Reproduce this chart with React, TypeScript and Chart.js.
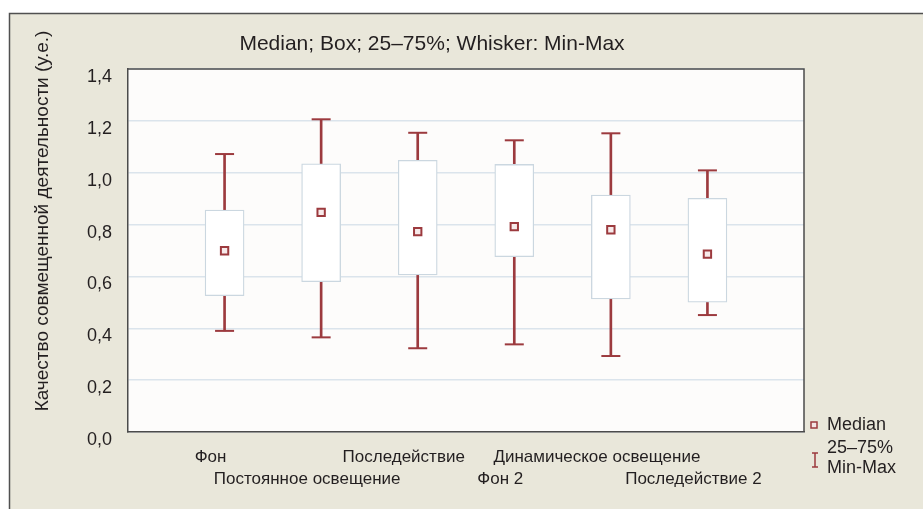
import React, { useEffect, useRef } from 'react';
import { Chart, registerables } from 'chart.js';

Chart.register(...registerables);

const categories = ['Фон', 'Постоянное освещение', 'Последействие', 'Фон 2', 'Динамическое освещение', 'Последействие 2'];
const minValues = [0.39, 0.365, 0.323, 0.338, 0.293, 0.451];
const q1Values = [0.526, 0.58, 0.606, 0.676, 0.513, 0.501];
const medianValues = [0.699, 0.847, 0.773, 0.792, 0.78, 0.686];
const q3Values = [0.856, 1.034, 1.048, 1.032, 0.914, 0.901];
const maxValues = [1.072, 1.206, 1.154, 1.125, 1.152, 1.009];

const titleText = 'Median; Box; 25–75%; Whisker: Min-Max';
const yTitleText = 'Качество совмещенной деятельности (у.е.)';
const legendLabels = ['Median', '25–75%', 'Min-Max'];

const FONT = "'Liberation Sans', Arial, sans-serif";
const RED = '#9c3a3e';
const TEXT = '#231f20';

const decor = {
  id: 'decor',
  beforeDraw(chart: any) {
    const { ctx, chartArea: a } = chart;
    ctx.save();
    ctx.fillStyle = '#ffffff';
    ctx.fillRect(0, 0, chart.width, chart.height);
    ctx.fillStyle = '#e9e7da';
    ctx.fillRect(9, 13, chart.width - 9, chart.height - 13);
    ctx.strokeStyle = '#505050';
    ctx.lineWidth = 1.5;
    ctx.beginPath();
    ctx.moveTo(9.5, chart.height);
    ctx.lineTo(9.5, 13.5);
    ctx.lineTo(chart.width, 13.5);
    ctx.stroke();
    ctx.fillStyle = '#fdfcfb';
    ctx.fillRect(a.left, a.top, a.right - a.left, a.bottom - a.top);
    ctx.restore();
  },
  afterDraw(chart: any) {
    const { ctx, chartArea: a } = chart;
    ctx.save();
    ctx.strokeStyle = '#4b4b4b';
    ctx.lineWidth = 1.5;
    ctx.beginPath();
    ctx.moveTo(a.left, a.top);
    ctx.lineTo(a.right, a.top);
    ctx.lineTo(a.right, a.bottom);
    ctx.stroke();

    ctx.fillStyle = TEXT;
    ctx.textBaseline = 'middle';
    ctx.textAlign = 'center';
    ctx.font = `21px ${FONT}`;
    ctx.fillText(titleText, 432, 44);

    ctx.save();
    ctx.translate(43, 221);
    ctx.rotate(-Math.PI / 2);
    ctx.font = `19px ${FONT}`;
    ctx.fillText(yTitleText, 0, 0);
    ctx.restore();

    // legend
    ctx.font = `18px ${FONT}`;
    ctx.textAlign = 'left';
    ctx.fillText(legendLabels[0], 827, 425);
    ctx.fillText(legendLabels[1], 827, 448);
    ctx.fillText(legendLabels[2], 827, 468);
    ctx.strokeStyle = RED;
    ctx.lineWidth = 1.5;
    ctx.fillStyle = '#f3e4e4';
    ctx.fillRect(811, 422, 6, 6);
    ctx.strokeRect(811, 422, 6, 6);
    ctx.beginPath();
    ctx.moveTo(815, 453);
    ctx.lineTo(815, 467);
    ctx.moveTo(812, 453);
    ctx.lineTo(818, 453);
    ctx.moveTo(812, 467);
    ctx.lineTo(818, 467);
    ctx.stroke();
    ctx.restore();
  },
};

export default function App() {
  const ref = useRef<HTMLCanvasElement>(null);
  useEffect(() => {
    const pos = categories.map((_, i) => i + 1);
    const chart = new Chart(ref.current!, {
      type: 'bar',
      data: {
        datasets: [
          {
            type: 'scatter',
            data: pos.map((x, i) => ({ x, y: medianValues[i] })),
            pointStyle: 'rect',
            radius: 5.2,
            borderWidth: 2,
            borderColor: RED,
            backgroundColor: '#f7eaea',
            order: 0,
          } as any,
          {
            type: 'scatter',
            data: [
              ...pos.map((x, i) => ({ x, y: minValues[i] })),
              ...pos.map((x, i) => ({ x, y: maxValues[i] })),
            ],
            pointStyle: 'line',
            radius: 9.5,
            borderWidth: 2,
            borderColor: RED,
            backgroundColor: RED,
            order: 1,
          } as any,
          {
            type: 'bar',
            data: pos.map((x, i) => ({ x, y: [q1Values[i], q3Values[i]] })),
            barThickness: 39,
            backgroundColor: '#ffffff',
            borderColor: '#cbd7e0',
            borderWidth: 1.3,
            borderSkipped: false,
            grouped: false,
            order: 2,
          } as any,
          {
            type: 'bar',
            data: pos.map((x, i) => ({ x, y: [minValues[i], q1Values[i]] })),
            barThickness: 2,
            backgroundColor: RED,
            borderWidth: 0,
            grouped: false,
            order: 3,
          } as any,
          {
            type: 'bar',
            data: pos.map((x, i) => ({ x, y: [q3Values[i], maxValues[i]] })),
            barThickness: 2,
            backgroundColor: RED,
            borderWidth: 0,
            grouped: false,
            order: 3,
          } as any,
        ],
      },
      options: {
        responsive: false,
        animation: false,
        events: [],
        layout: { padding: { left: 0, top: 69, right: 119, bottom: 0 } },
        plugins: {
          legend: { display: false },
          title: { display: false },
          tooltip: { enabled: false },
        },
        scales: {
          x: {
            type: 'linear',
            min: 0,
            max: 7,
            offset: false,
            afterFit: (s: any) => { s.height = 77; },
            grid: { offset: false, drawOnChartArea: false, drawTicks: false },
            border: { color: '#4b4b4b', width: 1.5 },
            ticks: {
              stepSize: 1,
              autoSkip: false,
              maxRotation: 0,
              padding: 14,
              labelOffset: -14,
              color: TEXT,
              font: { family: FONT, size: 17, lineHeight: 1.3 },
              callback: (v: any) => {
                const idx = Number(v) - 1;
                if (idx < 0 || idx >= categories.length) return '';
                return idx % 2 === 0 ? [categories[idx], ''] : ['', categories[idx]];
              },
            },
          },
          y: {
            type: 'linear',
            min: 0,
            max: 1.4,
            afterFit: (s: any) => { s.width = 128; },
            grid: { color: '#dbe4ec', lineWidth: 1.5, drawTicks: false },
            border: { color: '#4b4b4b', width: 1.5 },
            ticks: {
              stepSize: 0.2,
              padding: 16,
              labelOffset: 8,
              color: TEXT,
              font: { family: FONT, size: 18 },
              callback: (v: any) => Number(v).toFixed(1).replace('.', ','),
            },
          },
        },
      } as any,
      plugins: [decor],
    });
    return () => chart.destroy();
  }, []);
  return (
    <div style={{ position: 'fixed', left: 0, top: 0, width: 923, height: 509, background: '#fff' }}>
      <canvas ref={ref} width={923} height={509} style={{ display: 'block', width: 923, height: 509 }} />
    </div>
  );
}
